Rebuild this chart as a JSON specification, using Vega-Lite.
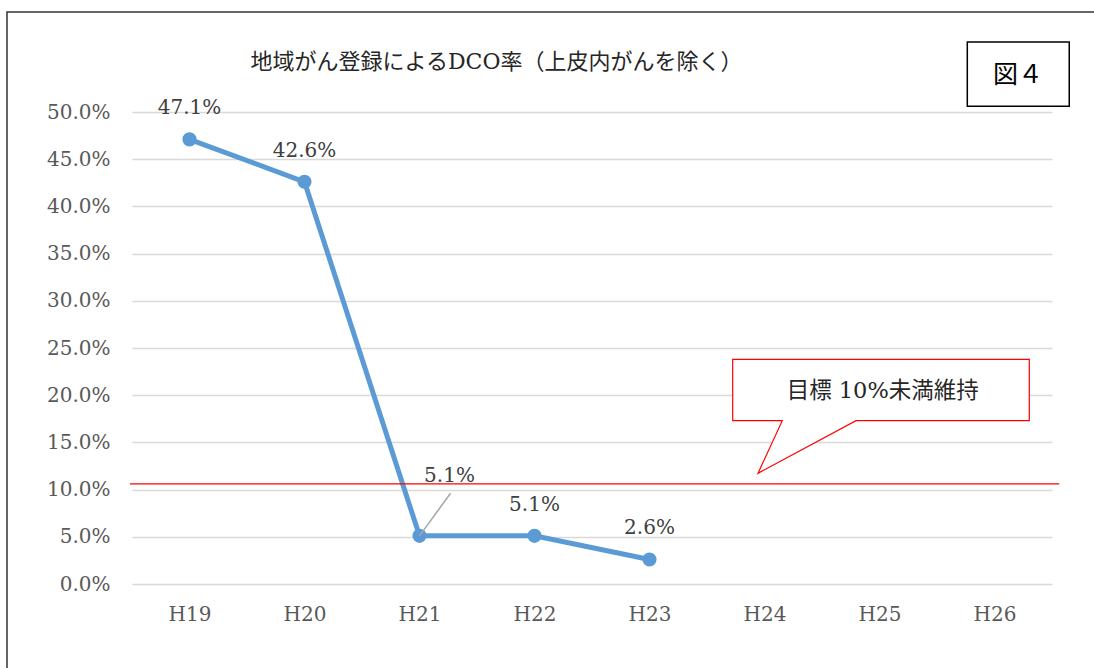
{
  "$schema": "https://vega.github.io/schema/vega-lite/v6.json",
  "width": 920,
  "height": 472,
  "autosize": {"type": "none"},
  "padding": {"left": 132, "top": 112, "right": 42, "bottom": 84},
  "background": "white",
  "datasets": {
    "dco": [
      {"year": "H19", "rate": 0.471},
      {"year": "H20", "rate": 0.426},
      {"year": "H21", "rate": 0.051},
      {"year": "H22", "rate": 0.051},
      {"year": "H23", "rate": 0.026}
    ],
    "titleText": [{"x": 2.6696, "y": 0.553, "t": "地域がん登録によるDCO率（上皮内がんを除く）"}],
    "frame": [{"x": -1.587, "x2": 7.95, "y": 0.6059, "y2": -0.11}],
    "target": [{"x": -0.517, "x2": 7.563, "y": 0.106}],
    "callout": [
      {"k": 1, "x": 4.7235, "y": 0.238},
      {"k": 2, "x": 7.3026, "y": 0.238},
      {"k": 3, "x": 7.3026, "y": 0.173},
      {"k": 4, "x": 5.7957, "y": 0.173},
      {"k": 5, "x": 4.9435, "y": 0.1173},
      {"k": 6, "x": 5.1548, "y": 0.173},
      {"k": 7, "x": 4.7235, "y": 0.173}
    ],
    "calloutText": [{"x": 6.028, "y": 0.2048, "t": "目標 10%未満維持"}],
    "figBox": [{"x": 6.7635, "x2": 7.65, "y": 0.5742, "y2": 0.506}],
    "figText": [{"x": 7.204, "y": 0.5395, "t": "図４"}],
    "leader": [{"x": 2.0, "x2": 2.27, "y": 0.051, "y2": 0.0961}]
  },
  "config": {
    "view": {"stroke": null},
    "axis": {
      "labelFont": "DejaVu Serif",
      "labelFontSize": 20,
      "labelColor": "#595959",
      "ticks": false,
      "domain": false,
      "title": null
    },
    "axisY": {
      "gridColor": "#d9d9d9",
      "gridWidth": 1.5,
      "labelPadding": 22,
      "format": ".1%"
    },
    "axisX": {"grid": false, "labelPadding": 20}
  },
  "resolve": {"scale": {"x": "independent"}, "axis": {"x": "independent"}},
  "layer": [
    {
      "layer": [
        {
          "data": {"name": "dco"},
          "mark": {"type": "line", "color": "#5b9bd5", "strokeWidth": 5},
          "encoding": {
            "x": {
              "field": "year",
              "type": "nominal",
              "sort": null,
              "scale": {"type": "point", "domain": ["H19", "H20", "H21", "H22", "H23", "H24", "H25", "H26"], "padding": 0.5},
              "axis": {"labelAngle": 0, "title": null}
            },
            "y": {
              "field": "rate",
              "type": "quantitative",
              "scale": {"domain": [0, 0.5], "nice": false, "zero": true},
              "axis": {"values": [0, 0.05, 0.1, 0.15, 0.2, 0.25, 0.3, 0.35, 0.4, 0.45, 0.5], "format": ".1%", "title": null}
            }
          }
        },
        {
          "data": {"name": "dco"},
          "mark": {"type": "point", "filled": true, "opacity": 1, "color": "#5b9bd5", "size": 200},
          "encoding": {
            "x": {"field": "year", "type": "nominal", "sort": null},
            "y": {"field": "rate", "type": "quantitative", "title": null}
          }
        },
        {
          "data": {"name": "dco"},
          "transform": [{"filter": "datum.year !== 'H21'"}],
          "mark": {"type": "text", "font": "DejaVu Serif", "fontSize": 20, "color": "#404040", "baseline": "middle", "dy": -31},
          "encoding": {
            "x": {"field": "year", "type": "nominal", "sort": null},
            "y": {"field": "rate", "type": "quantitative", "title": null},
            "text": {"field": "rate", "type": "quantitative", "format": ".1%"}
          }
        },
        {
          "data": {"name": "dco"},
          "transform": [{"filter": "datum.year === 'H21'"}],
          "mark": {"type": "text", "font": "DejaVu Serif", "fontSize": 20, "color": "#404040", "baseline": "middle", "dx": 30, "dy": -60},
          "encoding": {
            "x": {"field": "year", "type": "nominal", "sort": null},
            "y": {"field": "rate", "type": "quantitative", "title": null},
            "text": {"field": "rate", "type": "quantitative", "format": ".1%"}
          }
        }
      ]
    },
    {
      "layer": [
        {
          "data": {"name": "frame"},
          "mark": {"type": "rect", "fill": "transparent", "stroke": "#333333", "strokeWidth": 1.5},
          "encoding": {
            "x": {"field": "x", "type": "quantitative", "scale": {"domain": [-0.5, 7.5], "nice": false, "zero": false}, "axis": null},
            "x2": {"field": "x2"},
            "y": {"field": "y", "type": "quantitative", "title": null},
            "y2": {"field": "y2"}
          }
        },
        {
          "data": {"name": "titleText"},
          "mark": {"type": "text", "font": "DejaVu Serif, Noto Sans CJK JP", "fontSize": 22, "color": "#262626", "baseline": "middle", "align": "center"},
          "encoding": {
            "x": {"field": "x", "type": "quantitative", "axis": null},
            "y": {"field": "y", "type": "quantitative", "title": null},
            "text": {"field": "t"}
          }
        },
        {
          "data": {"name": "target"},
          "mark": {"type": "rule", "color": "#ff0000", "strokeWidth": 1.2},
          "encoding": {
            "x": {"field": "x", "type": "quantitative", "axis": null},
            "x2": {"field": "x2"},
            "y": {"field": "y", "type": "quantitative", "title": null}
          }
        },
        {
          "data": {"name": "leader"},
          "mark": {"type": "rule", "color": "#a6a6a6", "strokeWidth": 1.5},
          "encoding": {
            "x": {"field": "x", "type": "quantitative", "axis": null},
            "x2": {"field": "x2"},
            "y": {"field": "y", "type": "quantitative", "title": null},
            "y2": {"field": "y2"}
          }
        },
        {
          "data": {"name": "callout"},
          "mark": {"type": "line", "interpolate": "linear-closed", "fill": "white", "stroke": "#ff0000", "strokeWidth": 1.2},
          "encoding": {
            "x": {"field": "x", "type": "quantitative", "axis": null},
            "y": {"field": "y", "type": "quantitative", "title": null},
            "order": {"field": "k", "type": "quantitative"}
          }
        },
        {
          "data": {"name": "calloutText"},
          "mark": {"type": "text", "font": "DejaVu Serif, Noto Sans CJK JP", "fontSize": 22.5, "color": "#262626", "baseline": "middle", "align": "center"},
          "encoding": {
            "x": {"field": "x", "type": "quantitative", "axis": null},
            "y": {"field": "y", "type": "quantitative", "title": null},
            "text": {"field": "t"}
          }
        },
        {
          "data": {"name": "figBox"},
          "mark": {"type": "rect", "fill": "white", "stroke": "#000000", "strokeWidth": 1.5},
          "encoding": {
            "x": {"field": "x", "type": "quantitative", "axis": null},
            "x2": {"field": "x2"},
            "y": {"field": "y", "type": "quantitative", "title": null},
            "y2": {"field": "y2"}
          }
        },
        {
          "data": {"name": "figText"},
          "mark": {"type": "text", "font": "DejaVu Serif, Noto Sans CJK JP", "fontSize": 25, "color": "#000000", "baseline": "middle", "align": "center"},
          "encoding": {
            "x": {"field": "x", "type": "quantitative", "axis": null},
            "y": {"field": "y", "type": "quantitative", "title": null},
            "text": {"field": "t"}
          }
        }
      ]
    }
  ]
}
